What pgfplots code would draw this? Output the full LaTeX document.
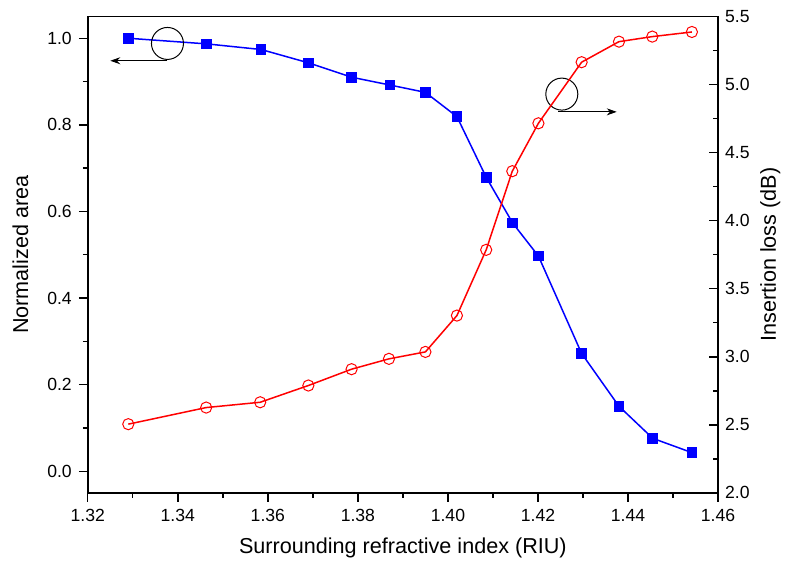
\documentclass[border=0pt]{standalone}
\usepackage{pgfplots}
\pgfplotsset{compat=1.18}
\usepackage{fontspec}
\setmainfont{Liberation Sans}
\usetikzlibrary{arrows.meta}

\pgfplotsset{
  every axis/.append style={
    scale only axis, width=315.2pt, height=238.2pt,
    xmin=1.32, xmax=1.46,
    /pgf/number format/assume math mode=true,
    tick label style={font=\fontsize{8.8}{10}\selectfont},
    label style={font=\fontsize{10.8}{12}\selectfont},
    axis line style={line width=0.9pt},
    major tick length=4.5pt, minor tick length=2.5pt,
    every tick/.style={black, line width=0.7pt},
  }
}

\begin{document}
\begin{tikzpicture}
\useasboundingbox (-43.9pt,-38pt) rectangle (351.2pt,246.5pt);
% left axis: normalized area
\begin{axis}[
  ymin=-0.05, ymax=1.05,
  xtick={1.32,1.34,1.36,1.38,1.40,1.42,1.44,1.46},
  ytick={0,0.2,0.4,0.6,0.8,1.0},
  minor x tick num=1, minor y tick num=1,
  xtick pos=bottom, ytick pos=left, tick align=outside,
  xticklabel style={/pgf/number format/.cd, fixed, fixed zerofill, precision=2},
  yticklabel style={/pgf/number format/.cd, fixed, fixed zerofill, precision=1},
  xlabel={Surrounding refractive index (RIU)},
  ylabel={Normalized area},
  xlabel style={at={(axis description cs:0.5,-0.115)}, anchor=center},
  ylabel style={at={(axis description cs:-0.107,0.5)}, anchor=center},
]
\addplot[blue, line width=0.75pt, mark=square*, mark size=2.3pt, mark options={solid, fill=blue}] coordinates {
  (1.3290,1.000) (1.3464,0.987) (1.3585,0.974) (1.3691,0.943) (1.3786,0.910)
  (1.3871,0.892) (1.3950,0.875) (1.4020,0.819) (1.4085,0.679) (1.4144,0.573)
  (1.4201,0.497) (1.4297,0.272) (1.4380,0.150) (1.4455,0.076) (1.4542,0.043)
};
\draw[line width=0.5pt] (axis cs:1.3377,0.988) circle[radius=8pt];
\draw[line width=0.5pt, -{Stealth[length=5pt,width=3.5pt]}] (axis cs:1.3377,0.948) -- (axis cs:1.3250,0.948);
\draw[line width=0.5pt] (axis cs:1.4253,0.871) circle[radius=8pt];
\draw[line width=0.5pt, -{Stealth[length=5pt,width=3.5pt]}] (axis cs:1.4245,0.830) -- (axis cs:1.4375,0.830);
\end{axis}
% right axis: insertion loss
\begin{axis}[
  ymin=2, ymax=5.5,
  axis x line=none, axis y line*=right,
  ytick={2,2.5,3,3.5,4,4.5,5,5.5},
  minor y tick num=1, tick align=inside,
  yticklabel style={/pgf/number format/.cd, fixed, fixed zerofill, precision=1},
  ylabel={Insertion loss (dB)},
  ylabel style={at={(axis description cs:1.083,0.5)}, anchor=center},
]
\addplot[red, line width=0.75pt, mark=o, mark size=2.8pt, mark options={solid, fill=white, line width=0.5pt}] coordinates {
  (1.3290,2.505) (1.3463,2.627) (1.3583,2.666) (1.3690,2.789) (1.3786,2.909)
  (1.3869,2.985) (1.3950,3.036) (1.4020,3.303) (1.4085,3.786) (1.4143,4.364)
  (1.4201,4.716) (1.4297,5.165) (1.4380,5.316) (1.4454,5.353) (1.4542,5.387)
};
\end{axis}
\end{tikzpicture}
\end{document}
